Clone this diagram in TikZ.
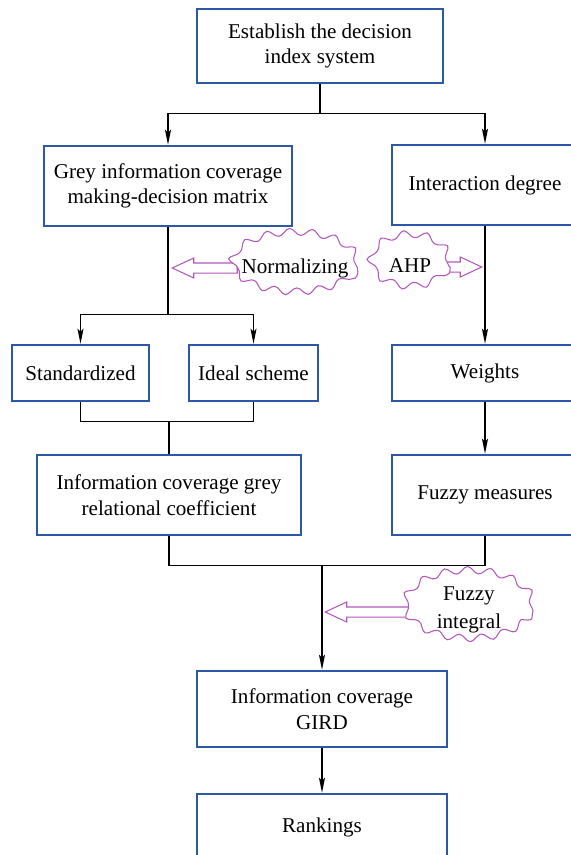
\documentclass[tikz,border=0pt]{standalone}
\usepackage{fontspec}
\setmainfont{Liberation Serif}
\usetikzlibrary{calc,positioning,arrows.meta,shapes.geometric,shapes.arrows,decorations.pathmorphing}

\definecolor{boxblue}{RGB}{45,88,168}
\definecolor{burstpurple}{RGB}{178,88,188}

\begin{document}
\begin{tikzpicture}[
    x=0.02cm, y=-0.02cm,
    box/.style={rectangle, draw=boxblue, line width=1.4pt, fill=white, align=center, font=\fontsize{12pt}{14.5pt}\selectfont, inner sep=2pt},
    burst/.style={ellipse, draw=burstpurple, line width=0.6pt, fill=white, inner sep=0pt, decorate, decoration={snake, segment length=0.45cm, amplitude=0.07cm}},
    bursttext/.style={font=\fontsize{12pt}{16pt}\selectfont, align=center},
    blockarrow/.style={single arrow, draw=burstpurple, line width=0.6pt, fill=white, inner sep=0.09cm, single arrow head extend=0.1cm, single arrow tip angle=50},
    conn/.style={black, line width=0.8pt},
    arrow/.style={conn, -{Stealth[length=0.3cm, width=0.12cm, inset=0.06cm]}},
]
\useasboundingbox (0,0) rectangle (571,855);
\clip (0,0) rectangle (571,855);

% === LEFT BRANCH ===
\node[box, minimum width=4.92cm, minimum height=1.48cm] (establish) at (320,46) {Establish the decision\\index system};
\node[box, minimum width=4.96cm, minimum height=1.6cm] (grey) at (168,186) {Grey information coverage\\making-decision matrix};
\node[box, minimum width=2.74cm, minimum height=1.12cm] (std) at (80.5,373) {Standardized};
\node[box, minimum width=2.58cm, minimum height=1.12cm] (ideal) at (253.5,373) {Ideal scheme};
\node[box, minimum width=5.28cm, minimum height=1.6cm] (rel) at (169,495) {Information coverage grey\\relational coefficient};

% === RIGHT BRANCH ===
\node[box, minimum width=3.72cm, minimum height=1.6cm] (inter) at (485,185) {Interaction degree};
\node[box, minimum width=3.72cm, minimum height=1.12cm] (weights) at (485,373) {Weights};
\node[box, minimum width=3.72cm, minimum height=1.6cm] (fuzzym) at (485,495) {Fuzzy measures};

% === RESULT ===
\node[box, minimum width=5cm, minimum height=1.52cm] (gird) at (322,709) {Information coverage\\GIRD};
\node[box, minimum width=5cm, minimum height=1.32cm] (rank) at (322,827) {Rankings};

% === ARROWS ===
\draw[conn] (establish.south) -- ++(0,29) coordinate (split1);
\draw[arrow] (split1) -| (grey.north);
\draw[arrow] (split1) -| (inter.north);

\draw[conn] (grey.south) -- ++(0,87) coordinate (split2);
\draw[arrow] (split2) -| (std.north);
\draw[arrow] (split2) -| (ideal.north);

\draw[conn] (std.south) -- ++(0,19) coordinate (merge1) -| (ideal.south);
\draw[conn] (merge1 -| rel.north) -- (rel.north);

\draw[arrow] (inter.south) -- (weights.north);
\draw[arrow] (weights.south) -- (fuzzym.north);

\draw[conn] (rel.south) -- ++(0,29) coordinate (merge2) -| (fuzzym.south);
\draw[arrow] (merge2 -| gird.north) -- (gird.north);
\draw[arrow] (gird.south) -- (rank.north);

% === CALLOUTS ===
\node[blockarrow, shape border rotate=180, anchor=tip, minimum height=1.3cm] (normarrow) at (171,268) {};
\node[blockarrow, anchor=tip, minimum height=0.86cm] (ahparrow) at (483,267) {};
\node[blockarrow, shape border rotate=180, anchor=tip, minimum height=1.72cm] (fintarrow) at (324,612) {};

\node[burst, minimum width=2.5cm, minimum height=1.2cm, label={[bursttext]center:Normalizing}] (norm) at (295,268) {};
\node[burst, minimum width=1.56cm, minimum height=1.04cm, label={[bursttext]center:AHP}] (ahp) at (410,266) {};
\node[burst, minimum width=2.56cm, minimum height=1.36cm, label={[bursttext]center:Fuzzy\\integral}] (fint) at (469,610) {};

\end{tikzpicture}
\end{document}
